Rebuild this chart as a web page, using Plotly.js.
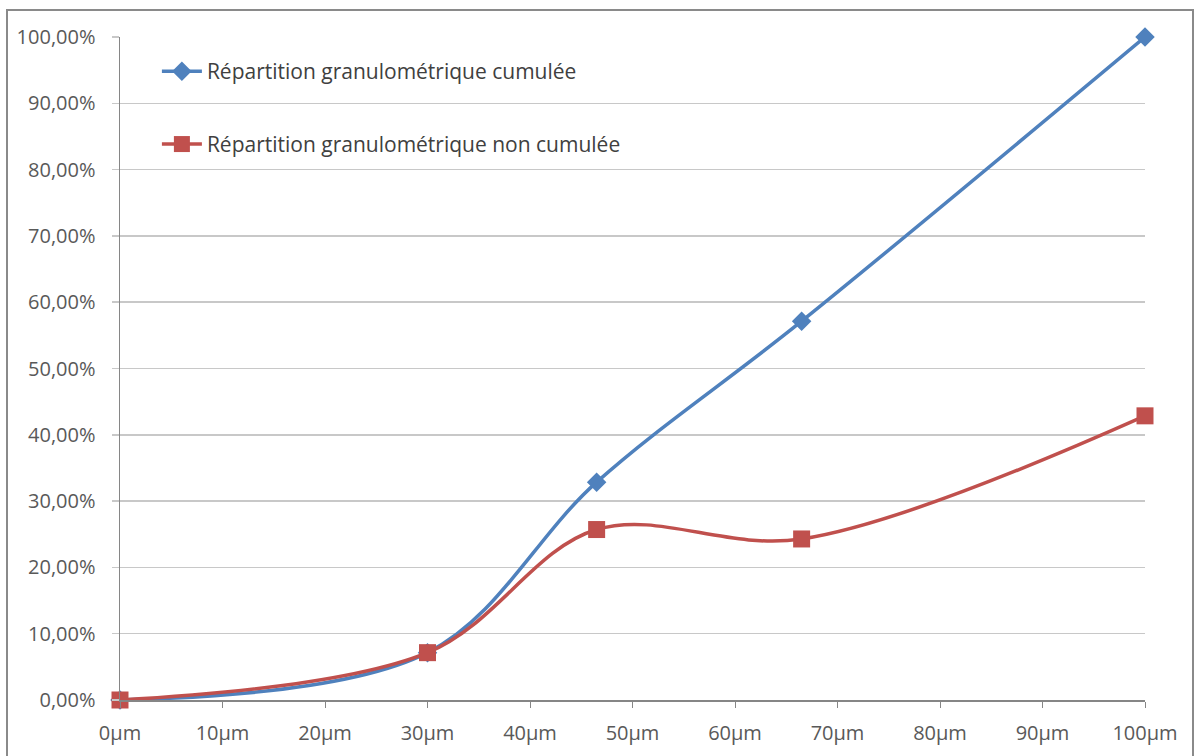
<!DOCTYPE html>
<html>
<head>
<meta charset="utf-8">
<script src="https://cdn.plot.ly/plotly-3.0.1.min.js"></script>
<style>
  html, body { margin: 0; padding: 0; background: #fff; }
  #chart { width: 1196px; height: 756px; }
  #frame { position: absolute; left: 6px; top: 9px; width: 1184px; height: 760px; border: 2px solid #8a8a8a; pointer-events: none; }
</style>
</head>
<body>
<div id="chart"></div>
<div id="frame"></div>
<script>
const sizes = [0, 30, 46.5, 66.5, 100];
const cumulative = [0, 0.0714, 0.3286, 0.5714, 1.0];
const nonCumulative = [0, 0.0714, 0.2571, 0.2429, 0.4286];
const seriesNames = ['Répartition granulométrique cumulée', 'Répartition granulométrique non cumulée'];
const xTicks = [0, 10, 20, 30, 40, 50, 60, 70, 80, 90, 100];
const xTickLabels = ['0µm', '10µm', '20µm', '30µm', '40µm', '50µm', '60µm', '70µm', '80µm', '90µm', '100µm'];
const yTicks = [0, 0.1, 0.2, 0.3, 0.4, 0.5, 0.6, 0.7, 0.8, 0.9, 1.0];

const fontFam = 'Open Sans, Lato, sans-serif';
const traces = [
  {
    x: sizes, y: cumulative, name: seriesNames[0], type: 'scatter', mode: 'lines+markers',
    line: { color: '#4F81BD', width: 3.5, shape: 'spline', smoothing: 1 },
    marker: { symbol: 'diamond', size: 15, color: '#4F81BD' },
    cliponaxis: false,
    legend: 'legend'
  },
  {
    x: sizes, y: nonCumulative, name: seriesNames[1], type: 'scatter', mode: 'lines+markers',
    line: { color: '#C0504D', width: 3.5, shape: 'spline', smoothing: 1 },
    marker: { symbol: 'square', size: 17, color: '#C0504D' },
    cliponaxis: false,
    legend: 'legend2'
  }
];

const legendCommon = {
  xref: 'paper', yref: 'paper', xanchor: 'left', yanchor: 'middle',
  bgcolor: 'rgba(0,0,0,0)', font: { family: fontFam, size: 21, color: '#404040' },
  itemwidth: 40
};

const layout = {
  width: 1196, height: 756,
  margin: { l: 120, r: 51, t: 37, b: 56 },
  paper_bgcolor: '#ffffff', plot_bgcolor: '#ffffff',
  separators: ', ',
  font: { family: fontFam, size: 20, color: '#595959' },
  xaxis: {
    range: [0, 100], tickmode: 'array', tickvals: xTicks, ticktext: xTickLabels,
    showgrid: false, zeroline: false, showline: true, linecolor: '#868686', linewidth: 1.5,
    ticks: 'outside', ticklen: 6, tickcolor: '#868686', tickwidth: 1,
    ticklabelstandoff: 8,
    tickfont: { family: fontFam, size: 20, color: '#595959' }
  },
  yaxis: {
    range: [0, 1], tickmode: 'array', tickvals: yTicks, tickformat: '.2%',
    showgrid: true, gridcolor: '#c8c8c8', gridwidth: 1.5, zeroline: false,
    showline: true, linecolor: '#868686', linewidth: 1.5,
    ticks: 'outside', ticklen: 7, tickcolor: '#c8c8c8', tickwidth: 1.5,
    ticklabelstandoff: 12,
    tickfont: { family: fontFam, size: 20, color: '#595959' }
  },
  showlegend: true,
  legend: Object.assign({}, legendCommon, { x: 0.036, y: 0.948 }),
  legend2: Object.assign({}, legendCommon, { x: 0.036, y: 0.838 })
};

Plotly.newPlot('chart', traces, layout, { displayModeBar: false, staticPlot: true });
</script>
</body>
</html>
